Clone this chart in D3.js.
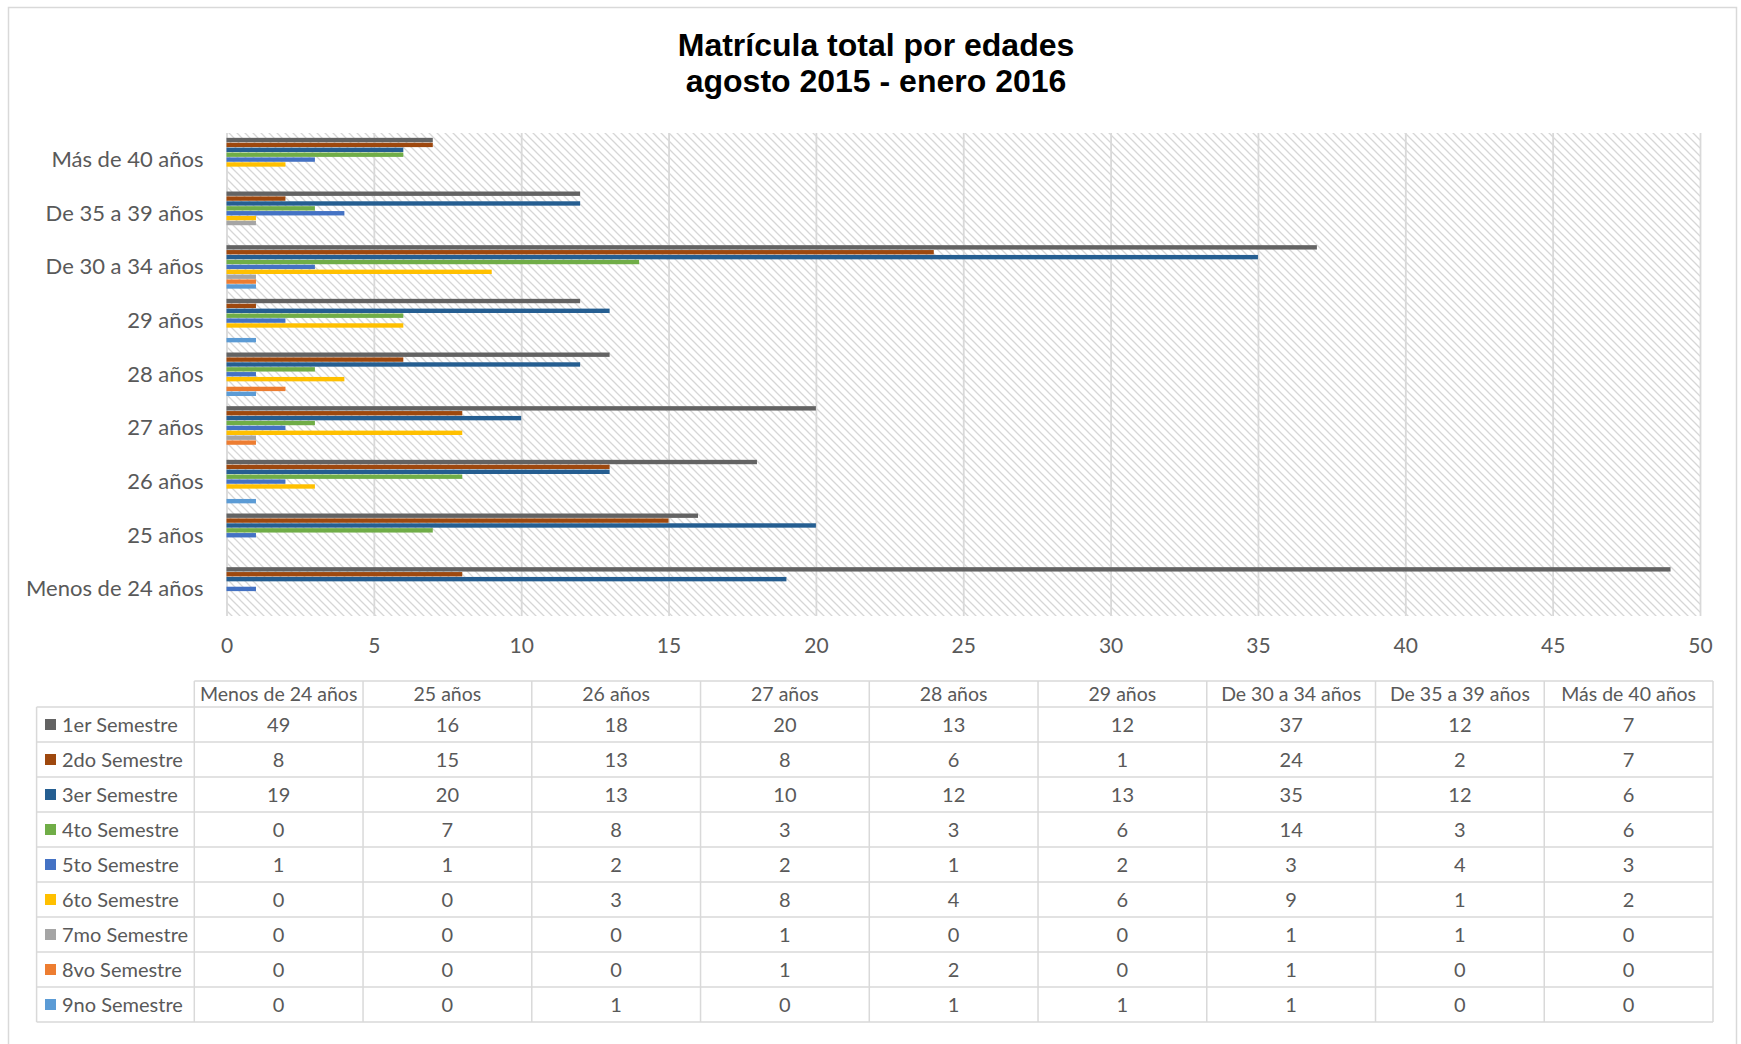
<!DOCTYPE html>
<html>
<head>
<meta charset="utf-8">
<script src="https://cdn.jsdelivr.net/npm/d3@7"></script>
<style>
  body { margin: 0; background: #fff; }
  text { font-family: Lato, "Noto Sans", sans-serif; fill: #595959; }
  .title { font-family: "Liberation Sans", Arial, sans-serif; font-weight: bold; fill: #000; }
</style>
</head>
<body>
<svg class="chart"></svg>
<script>
// categories (bottom to top in the chart, left to right in the table)
var categories = ["Menos de 24 años", "25 años", "26 años", "27 años", "28 años",
                  "29 años", "De 30 a 34 años", "De 35 a 39 años", "Más de 40 años"];

var seriesNames = ["1er Semestre", "2do Semestre", "3er Semestre", "4to Semestre", "5to Semestre",
                   "6to Semestre", "7mo Semestre", "8vo Semestre", "9no Semestre"];

var seriesColors = ["#636363", "#9E480E", "#255E91", "#70AD47", "#4472C4",
                    "#FFC000", "#A5A5A5", "#ED7D31", "#5B9BD5"];

// values per series, in category order
var sem1 = [49, 16, 18, 20, 13, 12, 37, 12, 7];
var sem2 = [8, 15, 13, 8, 6, 1, 24, 2, 7];
var sem3 = [19, 20, 13, 10, 12, 13, 35, 12, 6];
var sem4 = [0, 7, 8, 3, 3, 6, 14, 3, 6];
var sem5 = [1, 1, 2, 2, 1, 2, 3, 4, 3];
var sem6 = [0, 0, 3, 8, 4, 6, 9, 1, 2];
var sem7 = [0, 0, 0, 1, 0, 0, 1, 1, 0];
var sem8 = [0, 0, 0, 1, 2, 0, 1, 0, 0];
var sem9 = [0, 0, 1, 0, 1, 1, 1, 0, 0];

var xTicks = [0, 5, 10, 15, 20, 25, 30, 35, 40, 45, 50];

var titleLines = ["Matrícula total por edades", "agosto 2015 - enero 2016"];

var allValues = [sem1, sem2, sem3, sem4, sem5, sem6, sem7, sem8, sem9];

// flatten into records for the bars
var records = [];
seriesNames.forEach(function(s, i) {
  categories.forEach(function(c, j) {
    records.push({series: s, category: c, value: allValues[i][j], color: seriesColors[i]});
  });
});

var W = 1741, H = 1044;
var plot = {left: 226.5, right: 1700, top: 133, bottom: 616};

var svg = d3.select("svg.chart")
  .attr("width", W)
  .attr("height", H);

// outer chart border
svg.append("rect")
  .attr("x", 8.5).attr("y", 7.5)
  .attr("width", 1728).attr("height", 1060)
  .attr("fill", "none")
  .attr("stroke", "#d9d9d9")
  .attr("stroke-width", 1.5);

// title
svg.selectAll("text.title")
  .data(titleLines).enter()
  .append("text")
    .attr("class", "title")
    .attr("x", 876)
    .attr("y", function(d, i) { return 56 + i * 36; })
    .attr("text-anchor", "middle")
    .style("font-size", "32px")
    .text(function(d) { return d; });

// hatch pattern for the plot area (wide downward diagonal)
var defs = svg.append("defs");
defs.append("pattern")
    .attr("id", "hatch")
    .attr("patternUnits", "userSpaceOnUse")
    .attr("width", 8).attr("height", 8)
  .append("path")
    .attr("d", "M0,0 L8,8 M-2,6 L2,10 M6,-2 L10,2")
    .attr("stroke", "#d6d6d6")
    .attr("stroke-width", 1.3);

svg.append("rect")
  .attr("x", plot.left).attr("y", plot.top)
  .attr("width", plot.right - plot.left)
  .attr("height", plot.bottom - plot.top)
  .attr("fill", "url(#hatch)");

// scales
var x = d3.scaleLinear()
  .domain([0, 50])
  .range([plot.left, plot.right]);

var y = d3.scaleBand()
  .domain(categories)
  .range([plot.bottom, plot.top])
  .paddingInner(0.18)
  .paddingOuter(0.09);

var ySub = d3.scaleBand()
  .domain(seriesNames)
  .range([0, y.bandwidth()]);

// gridlines
svg.append("g")
  .attr("transform", "translate(0," + plot.bottom + ")")
  .call(d3.axisBottom(x).tickValues(xTicks).tickSize(-(plot.bottom - plot.top)).tickFormat(""))
  .call(function(g) { g.select(".domain").remove(); })
  .selectAll("line")
    .attr("stroke", "#d9d9d9")
    .attr("stroke-width", 1.8);

// x tick labels
var xAxis = svg.append("g")
  .attr("transform", "translate(0," + plot.bottom + ")")
  .call(d3.axisBottom(x).tickValues(xTicks).tickSize(0));
xAxis.select(".domain").remove();
xAxis.selectAll("text")
  .attr("y", 30)
  .attr("dy", "0.35em")
  .style("font-size", "21px")
  .style("font-family", "Lato, sans-serif")
  .attr("fill", "#595959");

// bars
svg.append("g")
  .selectAll("rect")
  .data(records.filter(function(d) { return d.value > 0; }))
  .enter().append("rect")
    .attr("x", x(0))
    .attr("y", function(d) { return y(d.category) + ySub(d.series); })
    .attr("width", function(d) { return x(d.value) - x(0); })
    .attr("height", ySub.bandwidth() - 0.5)
    .attr("fill", function(d) { return d.color; });

// category labels
var yAxis = svg.append("g")
  .attr("transform", "translate(" + plot.left + ",0)")
  .call(d3.axisLeft(y).tickSize(0).tickPadding(23));
yAxis.select(".domain").remove();
yAxis.selectAll("text")
  .style("font-size", "22px")
  .style("font-family", "Lato, sans-serif")
  .attr("fill", "#595959");

// data table
var table = {left: 36.6, colStart: 194.3, right: 1713, headTop: 681, rowTop: 707, bottom: 1022};

var col = d3.scaleBand()
  .domain(categories)
  .range([table.colStart, table.right]);

var row = d3.scaleBand()
  .domain(seriesNames)
  .range([table.rowTop, table.bottom]);

var tg = svg.append("g")
  .attr("stroke", "#d9d9d9")
  .attr("stroke-width", 1.5);

// horizontal lines
tg.append("line")
  .attr("x1", table.colStart).attr("x2", table.right)
  .attr("y1", table.headTop).attr("y2", table.headTop);
tg.selectAll("line.h")
  .data(seriesNames.concat(["end"])).enter()
  .append("line")
    .attr("x1", table.left).attr("x2", table.right)
    .attr("y1", function(d, i) { return table.rowTop + i * row.bandwidth(); })
    .attr("y2", function(d, i) { return table.rowTop + i * row.bandwidth(); });

// vertical lines
tg.append("line")
  .attr("x1", table.left).attr("x2", table.left)
  .attr("y1", table.rowTop).attr("y2", table.bottom);
tg.selectAll("line.v")
  .data(categories.concat(["end"])).enter()
  .append("line")
    .attr("x1", function(d, i) { return table.colStart + i * col.bandwidth(); })
    .attr("x2", function(d, i) { return table.colStart + i * col.bandwidth(); })
    .attr("y1", table.headTop).attr("y2", table.bottom);

// header texts
svg.append("g")
  .selectAll("text")
  .data(categories).enter()
  .append("text")
    .attr("x", function(d) { return col(d) + col.bandwidth() / 2; })
    .attr("y", (table.headTop + table.rowTop) / 2)
    .attr("dy", "0.35em")
    .attr("text-anchor", "middle")
    .style("font-size", "19.5px")
    .text(function(d) { return d; });

// legend keys and series names
var legend = svg.append("g")
  .selectAll("g")
  .data(seriesNames).enter()
  .append("g")
    .attr("transform", function(d) { return "translate(0," + (row(d) + row.bandwidth() / 2) + ")"; });
legend.append("rect")
  .attr("x", 45).attr("y", -5.5)
  .attr("width", 11).attr("height", 11)
  .attr("fill", function(d, i) { return seriesColors[i]; });
legend.append("text")
  .attr("x", 62)
  .attr("dy", "0.35em")
  .style("font-size", "20px")
  .text(function(d) { return d; });

// value cells
svg.append("g")
  .selectAll("text")
  .data(records).enter()
  .append("text")
    .attr("x", function(d) { return col(d.category) + col.bandwidth() / 2; })
    .attr("y", function(d) { return row(d.series) + row.bandwidth() / 2; })
    .attr("dy", "0.35em")
    .attr("text-anchor", "middle")
    .style("font-size", "20px")
    .text(function(d) { return d.value; });
</script>
</body>
</html>
